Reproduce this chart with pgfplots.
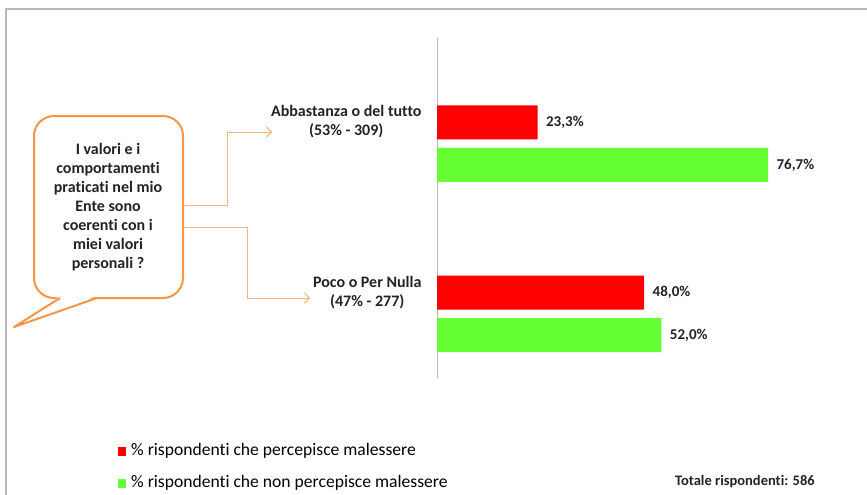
\documentclass[border=0pt]{standalone}
\usepackage{fontspec}
\setmainfont[Ligatures=NoCommon]{Carlito}
\usepackage{pgfplots}
\pgfplotsset{compat=1.18}
\usetikzlibrary{arrows.meta}
\definecolor{barred}{RGB}{255,0,0}
\definecolor{bargreen}{RGB}{102,255,51}
\definecolor{bubbleorange}{RGB}{247,150,70}
\definecolor{linkorange}{RGB}{245,180,130}
\definecolor{txt}{RGB}{35,35,35}
\begin{document}
\begin{tikzpicture}[x=1pt,y=1pt]
\path[use as bounding box] (0,0) rectangle (867,-495);
\begin{scope}
\clip (0,0) rectangle (867,-495);
\draw[gray!55, line width=1.5pt] (6,-600) -- (6,-9) -- (900,-9);
\end{scope}
% speech bubble
\draw[bubbleorange, line width=2pt, fill=white, rounded corners=20pt] (34,-116) rectangle (183,-298);
\fill[white] (60,-296) -- (97,-296) -- (14,-327) -- cycle;
\draw[bubbleorange, line width=2pt, line join=round] (60,-298) -- (14,-327) -- (97,-298);
\node[align=center, text=txt, font=\bfseries\fontsize{16}{19}\selectfont] at (108,-207.5)
  {I valori e i\\comportamenti\\praticati nel mio\\Ente sono\\coerenti con i\\miei valori\\personali ?};
% connectors
\draw[linkorange, line width=1pt, -{Straight Barb[length=5pt,width=10pt]}] (183,-205) -- (227,-205) -- (227,-132) -- (272,-132);
\draw[linkorange, line width=1pt, -{Straight Barb[length=5pt,width=10pt]}] (183,-227) -- (247,-227) -- (247,-298) -- (310,-298);
\begin{axis}[
  at={(437pt,-378pt)}, anchor=south west,
  scale only axis, width=431.6pt, height=340pt,
  xmin=0, xmax=100, ymin=-0.376, ymax=1.621,
  xbar, bar width=34pt,
  axis x line=none, axis y line*=left,
  axis line style={gray!55, line width=1pt, -},
  xtick=\empty, ytick=\empty,
  clip=false,
  point meta=x,
  nodes near coords={\pgfmathprintnumber[fixed,fixed zerofill,precision=1,use comma,assume math mode=true]{\pgfplotspointmeta}\%},
  nodes near coords style={font=\bfseries\fontsize{15}{17}\selectfont, text=txt, xshift=5pt},
]
\addplot[fill=barred, draw=none, bar shift=21.25pt] coordinates {(23.3,1) (48.0,0)};
\addplot[fill=bargreen, draw=none, bar shift=-21.25pt] coordinates {(76.7,1) (52.0,0)};
\node[anchor=east, align=center, text=txt, font=\bfseries\fontsize{16}{19}\selectfont, xshift=-12pt, yshift=22pt] at (axis cs:0,1) {Abbastanza o del tutto\\(53\% - 309)};
\node[anchor=east, align=center, text=txt, font=\bfseries\fontsize{16}{19}\selectfont, xshift=-12pt, yshift=21pt] at (axis cs:0,0) {Poco o Per Nulla\\(47\% - 277)};
\end{axis}
% legend
\fill[barred] (118,-447) rectangle (126,-456);
\node[anchor=west, inner sep=0pt, text=black, font=\fontsize{17.6}{19}\selectfont] at (131,-451) {\% rispondenti che percepisce malessere};
\fill[bargreen] (118,-479) rectangle (126,-488);
\node[anchor=west, inner sep=0pt, text=black, font=\fontsize{17.6}{19}\selectfont] at (131,-483) {\% rispondenti che non percepisce malessere};
\node[anchor=west, inner sep=0pt, text=txt, font=\bfseries\fontsize{14.5}{16}\selectfont] at (675,-482) {Totale rispondenti: 586};
\end{tikzpicture}
\end{document}
